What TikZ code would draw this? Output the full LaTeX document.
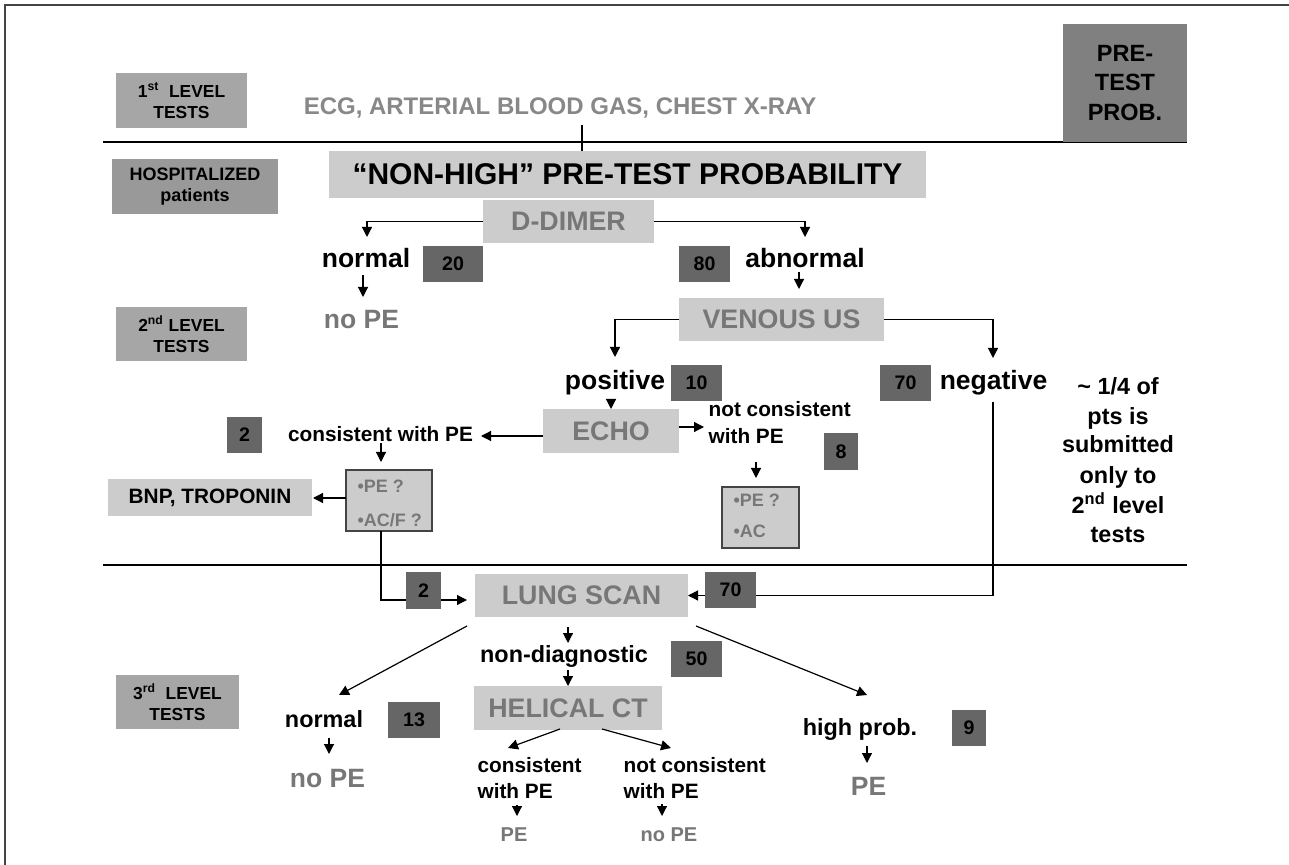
\documentclass[tikz,border=0pt]{standalone}
\usepackage{fontspec}
\setmainfont{Liberation Sans}
\usetikzlibrary{arrows.meta}
\definecolor{lvlgray}{HTML}{A6A6A6}
\definecolor{hospgray}{HTML}{999999}
\definecolor{pregray}{HTML}{808080}
\definecolor{numgray}{HTML}{666666}
\definecolor{boxgray}{HTML}{CCCCCC}
\definecolor{txtgray}{HTML}{777777}
\definecolor{ecggray}{HTML}{888888}
\definecolor{framegray}{HTML}{444444}
\tikzset{
 arr/.style={-{Triangle[length=5pt,width=5pt]}},
 wh/.style 2 args={minimum width=#1, minimum height=#2},
 bx/.style={inner sep=0pt, outer sep=0pt, align=center},
 lvl/.style={bx, fill=lvlgray, font=\bfseries\fontsize{8.7}{10.5}\selectfont},
 hosp/.style={bx, fill=hospgray, font=\bfseries\fontsize{9}{10.5}\selectfont},
 pre/.style={bx, fill=pregray, font=\bfseries\fontsize{11.75}{14.75}\selectfont},
 lbox/.style={bx, fill=boxgray, text=txtgray, font=\bfseries\fontsize{13.4}{16}\selectfont},
 num/.style={bx, fill=numgray, font=\bfseries\fontsize{9.8}{12}\selectfont},
 qbox/.style={bx, fill=boxgray, draw=framegray, line width=0.6pt},
 qtxt/.style={inner sep=0pt, anchor=base west, text=txtgray, font=\bfseries\fontsize{9}{11}\selectfont},
 labL/.style={inner sep=0pt, anchor=base, font=\bfseries\fontsize{13.25}{16}\selectfont},
 labM/.style={inner sep=0pt, anchor=base, font=\bfseries\fontsize{11.7}{14}\selectfont},
 labS/.style={inner sep=0pt, anchor=base west, font=\bfseries\fontsize{10.4}{13}\selectfont},
 gL/.style={labL, text=txtgray},
 gS/.style={inner sep=0pt, anchor=base, text=txtgray, font=\bfseries\fontsize{10}{12}\selectfont},
}
\begin{document}
\begin{tikzpicture}[x=0.5pt,y=-0.5pt,line width=0.6pt]
\useasboundingbox (0,0) rectangle (1289,865);
\fill[white] (0,0) rectangle (1289,865);
\draw[framegray,line width=0.9pt] (5,865) -- (5,5) -- (1289,5);
% separators
\draw (103,142) -- (1187,142);
\draw (103,565) -- (1187,565);

% level boxes
\node[lvl, wh={65.5pt}{27.5pt}] (lvl1) at (181.5,100.5) {1\textsuperscript{st}\ \ LEVEL\\TESTS};
\node[hosp, wh={83pt}{27.5pt}] (hosp) at (195,186.5) {HOSPITALIZED\\patients};
\node[lvl, wh={65.5pt}{27pt}] (lvl2) at (181.5,334) {2\textsuperscript{nd} LEVEL\\TESTS};
\node[lvl, wh={61.5pt}{27pt}] (lvl3) at (177.5,702) {3\textsuperscript{rd}\ \ LEVEL\\TESTS};
\node[pre, wh={62pt}{59pt}] (pretest) at (1125,83) {PRE-\\TEST\\PROB.};

% top
\node[inner sep=0pt, anchor=base, text=ecggray, font=\bfseries\fontsize{12}{14}\selectfont] (ecg) at (560,115) {ECG, ARTERIAL BLOOD GAS, CHEST X-RAY};
\node[bx, fill=boxgray, font=\bfseries\fontsize{15}{18}\selectfont, wh={298.5pt}{23.5pt}] (nonhigh) at (627.5,174.5) {“NON-HIGH” PRE-TEST PROBABILITY};
\node[lbox, wh={85.5pt}{21.5pt}] (ddimer) at (568.5,221.5) {D-DIMER};

\node[labL] (normal1) at (366,268) {normal};
\node[gL] (nope1) at (361.5,329) {no PE};
\node[labL] (abn) at (805,268) {abnormal};
\node[lbox, wh={102.5pt}{21.5pt}] (venous) at (781.5,319.5) {VENOUS US};
\node[labL] (positive) at (615,390) {positive};
\node[labL] (neg) at (993.5,390) {negative};

\node[labM] (q1) at (1118,395) {\textasciitilde{} 1/4 of};
\node[labM] (q2) at (1118,425) {pts is};
\node[labM] (q3) at (1118,453) {submitted};
\node[labM] (q4) at (1118,483) {only to};
\node[labM] (q5) at (1118,513) {2\textsuperscript{nd} level};
\node[labM] (q6) at (1118,542) {tests};

\node[lbox, wh={68pt}{22pt}] (echo) at (611,431) {ECHO};
\node[labS, anchor=base] (cons1) at (380.5,442) {consistent with PE};
\node[labS] (notcons1) at (708,417) {not consistent};
\node[labS] (withpe1) at (708,444) {with PE};

\node[qbox, wh={43pt}{30.5pt}] (pebox1) at (389,500.5) {};
\node[qtxt] (pe1a) at (357,493) {•PE ?};
\node[qtxt] (pe1b) at (357,526) {•AC/F ?};
\node[bx, fill=boxgray, font=\bfseries\fontsize{10.4}{13}\selectfont, wh={102pt}{18.5pt}] (bnp) at (210,497.5) {BNP, TROPONIN};
\node[qbox, wh={38.5pt}{30.5pt}] (pebox2) at (760.5,517.5) {};
\node[qtxt] (pe2a) at (733,506) {•PE ?};
\node[qtxt] (pe2b) at (733,538) {•AC};

% third level
\node[lbox, wh={106.5pt}{21.5pt}] (lung) at (581.5,595.5) {LUNG SCAN};
\node[labM] (nondiag) at (564,662) {non-diagnostic};
\node[lbox, wh={94pt}{22pt}] (hct) at (568,708) {HELICAL CT};
\node[labM] (normal2) at (324,727) {normal};
\node[gL] (nope2) at (327.5,787) {no PE};
\node[labS] (cons2) at (477,772) {consistent};
\node[labS] (withpe2) at (477,798) {with PE};
\node[labS] (notcons2) at (623,772) {not consistent};
\node[labS] (withpe3) at (623,798) {with PE};
\node[gS] (pe3) at (514,841) {PE};
\node[gS] (nope3) at (669,841) {no PE};
\node[labM] (high) at (860,735) {high prob.};
\node[gL] (pe4) at (868.5,795) {PE};

% number boxes
\node[num, wh={30pt}{18pt}] (n20) at (453,264) {20};
\node[num, wh={25.5pt}{18pt}] (n80) at (704.5,264) {80};
\node[num, wh={25.5pt}{18pt}] (n10) at (696.5,383) {10};
\node[num, wh={25.5pt}{18pt}] (n70a) at (905.5,383) {70};
\node[num, wh={17.5pt}{18pt}] (n2a) at (244.5,435) {2};
\node[num, wh={17pt}{18.5pt}] (n8) at (841,451.5) {8};
\node[num, wh={25.5pt}{18pt}] (n50) at (696.5,659) {50};
\node[num, wh={26pt}{18pt}] (n13) at (414,720) {13};
\node[num, wh={17pt}{18pt}] (n9) at (969,728) {9};

% connectors
\coordinate (ecgline) at (582,125);
\draw (ecgline) -- (ecgline |- nonhigh.north);
\coordinate (t1) at (367,237);
\coordinate (t2) at (805,237);
\draw[arr] (ddimer.west) -| (t1);
\draw[arr] (ddimer.east) -| (t2);
\draw[arr] (normal1.base) ++(-3,7) -- ++(0,22);
\draw[arr] (abn.base) ++(-6,4) -- ++(0,17);
\coordinate (t3) at (615,357);
\coordinate (t4) at (993,358);
\draw[arr] (venous.west) -| (t3);
\draw[arr] (venous.east) -| (t4);
\draw[arr] (positive.base) ++(-4,10) -- ++(0,9);
\draw[arr] (echo.west) ++(0,5) -- ++(-62,0);
\draw[arr] (cons1.base) ++(0.5,1) -- ++(0,19);
\draw[arr] (pebox1.west) ++(0,-2.5) -- ++(-33,0);
\draw[arr] (echo.east) ++(0,-4) -- ++(25,0);
\draw[arr] (withpe1.base west) ++(48,18) -- ++(0,16);
\coordinate (t5) at (467,600);
\draw[arr] (pebox1.south) ++(-8,0) |- (t5);
\draw[arr] (neg.base) ++(-0.5,12) |- (lung.east);
\coordinate (t6) at (339,695);
\coordinate (t7) at (867,695);
\draw[arr] (lung.south west) ++(-8,9) -- (t6);
\draw[arr] (lung.south east) ++(8,9) -- (t7);
\draw[arr] (lung.south) ++(-13.5,10) -- ++(0,16);
\draw[arr] (nondiag.base) ++(4,8) -- ++(0,16);
\draw[arr] (normal2.base) ++(5,11) -- ++(0,16);
\coordinate (t8) at (508,748);
\coordinate (t9) at (671,748);
\draw[arr] (hct.south) ++(-8,-1) -- (t8);
\draw[arr] (hct.south) ++(34,-1) -- (t9);
\draw[arr] (withpe2.base west) ++(40,7) -- ++(0,11);
\draw[arr] (withpe3.base west) ++(39,6) -- ++(0,12);
\draw[arr] (high.base) ++(7,11) -- ++(0,17);

% number boxes lying over connectors
\node[num, wh={17.5pt}{18.5pt}] (n2b) at (423.5,590.5) {2};
\node[num, wh={25.5pt}{18pt}] (n70b) at (730.5,590) {70};
\end{tikzpicture}
\end{document}
